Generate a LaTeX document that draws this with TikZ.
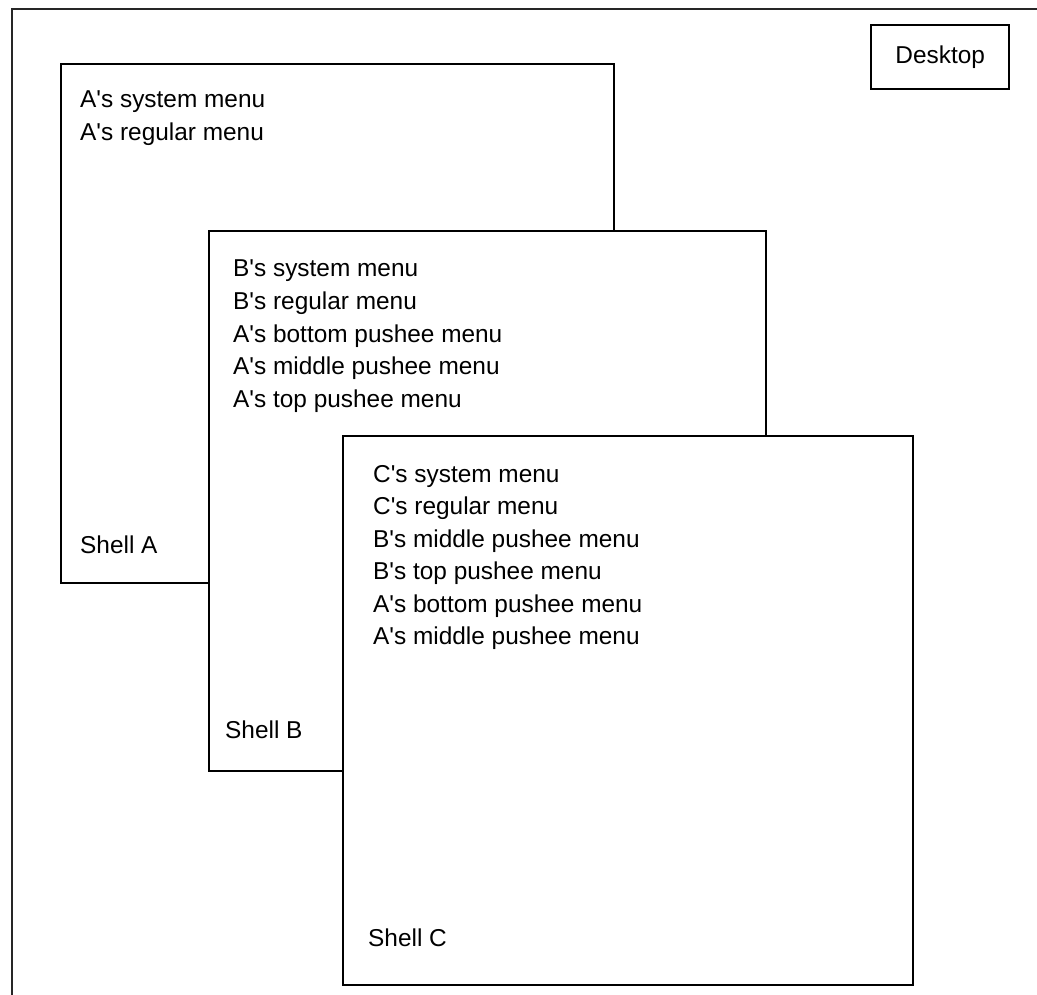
\documentclass[tikz,border=0pt]{standalone}
\usepackage{fontspec}
\setmainfont{Liberation Sans}
\usepackage{tikz}
\usetikzlibrary{positioning}
\newcommand\apos{\textquotesingle}
\tikzset{shell/.style={draw=black,fill=white,line width=2.4pt,anchor=north west,inner sep=0pt},menu/.style={anchor=base west,font=\fontsize{24.4}{32}\selectfont,inner sep=0pt},frame/.style={line width=1.8pt,draw=black!85}}
\begin{document}
\begin{tikzpicture}[x=1pt,y=-1pt]
\useasboundingbox (0,0) rectangle (1037,995);
\draw[frame] (1037,9) -- (12,9) -- (12,995);
\node[shell,minimum width=138pt,minimum height=64pt] (desk) at (870,24) {};
\node[menu,anchor=center] (desklbl) at (desk.center) {Desktop};
% shells, back to front
\node[shell,minimum width=553pt,minimum height=519pt] (shA) at (60,63) {};
\foreach \t [count=\i] in {A\apos s system menu,A\apos s regular menu}
 {\node[menu] (amenu\i) at (80,{108+32.5*(\i-1)}) {\t};}
\node[menu] (alabel) at (80,553) {Shell A};
\node[shell,minimum width=557pt,minimum height=540pt] (shB) at (208,230) {};
\foreach \t [count=\i] in {B\apos s system menu,B\apos s regular menu,A\apos s bottom pushee menu,A\apos s middle pushee menu,A\apos s top pushee menu}
 {\node[menu] (bmenu\i) at (233,{277+32.5*(\i-1)}) {\t};}
\node[menu] (blabel) at (225,738) {Shell B};
\node[shell,minimum width=570pt,minimum height=549pt] (shC) at (342,435) {};
\foreach \t [count=\i] in {C\apos s system menu,C\apos s regular menu,B\apos s middle pushee menu,B\apos s top pushee menu,A\apos s bottom pushee menu,A\apos s middle pushee menu}
 {\node[menu] (cmenu\i) at (373,{482+32.5*(\i-1)}) {\t};}
\node[menu] (clabel) at (368,946) {Shell C};
\end{tikzpicture}
\end{document}
